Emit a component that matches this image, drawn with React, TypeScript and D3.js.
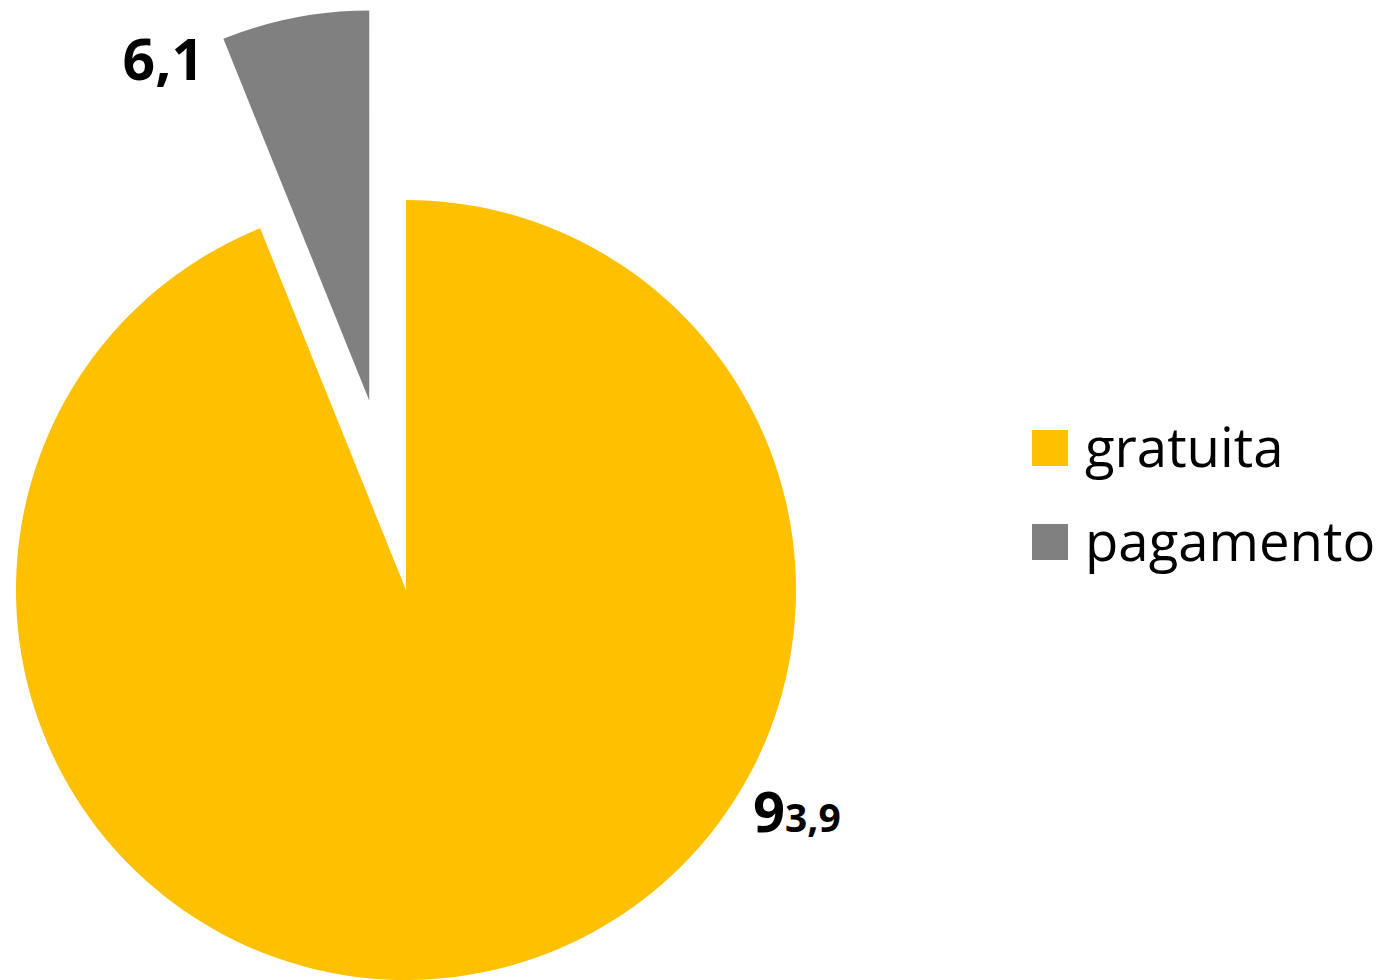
import React from "react";
import * as d3 from "d3";

const categories = ["gratuita", "pagamento"];
const values = [93.9, 6.1];
const colors = ["#FFC000", "#808080"];
const explode = [0, 193];

const W = 1395;
const H = 980;
const cx = 406;
const cy = 590;
const R = 390;

function fmt(v: number) {
  return v.toFixed(1).replace(".", ",");
}

export default function App() {
  const pie = d3
    .pie<number>()
    .sort(null)
    .value((d) => d)
    .startAngle(0)
    .endAngle(2 * Math.PI);
  const arcs = pie(values);
  const arc = d3.arc<d3.PieArcDatum<number>>().innerRadius(0).outerRadius(R);

  const offsets = arcs.map((a, i) => {
    const mid = (a.startAngle + a.endAngle) / 2;
    return [Math.sin(mid) * explode[i], -Math.cos(mid) * explode[i]];
  });

  const gratuitaLabel = fmt(values[0]);
  const pagamentoLabel = fmt(values[1]);

  return (
    <div style={{ position: "fixed", left: 0, top: 0 }}>
      <svg width={W} height={H} style={{ display: "block", background: "#fff" }}>
        <g transform={`translate(${cx},${cy})`}>
          {arcs.map((a, i) => (
            <path
              key={categories[i]}
              d={arc(a) || ""}
              fill={colors[i]}
              transform={`translate(${offsets[i][0]},${offsets[i][1]})`}
            />
          ))}
        </g>
        <text
          x={204}
          y={80}
          textAnchor="end"
          fontFamily="'Open Sans', sans-serif"
          fontWeight={700}
          fontSize={57}
          fill="#000"
        >
          {pagamentoLabel}
        </text>
        <text
          x={753}
          y={832}
          fontFamily="'Open Sans', sans-serif"
          fontWeight={700}
          fill="#000"
        >
          <tspan fontSize={56}>{gratuitaLabel.slice(0, 1)}</tspan>
          <tspan fontSize={39}>{gratuitaLabel.slice(1)}</tspan>
        </text>
        {categories.map((c, i) => (
          <g key={c} transform={`translate(1032,${430 + i * 94})`}>
            <rect x={0} y={0} width={36} height={36} fill={colors[i]} />
            <text
              x={53}
              y={37}
              fontFamily="'Open Sans', sans-serif"
              fontSize={54.5}
              fill="#000"
            >
              {c}
            </text>
          </g>
        ))}
      </svg>
    </div>
  );
}
